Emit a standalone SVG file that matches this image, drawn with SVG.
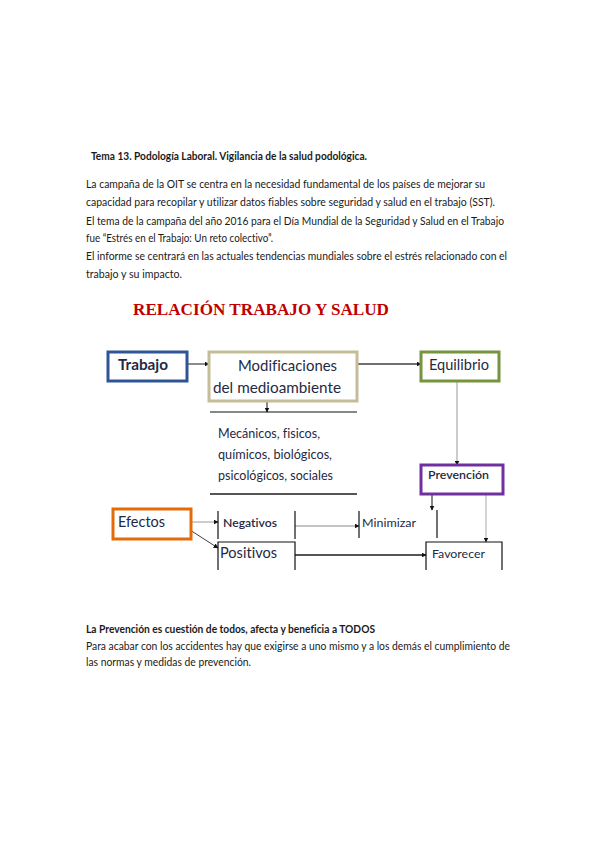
<svg xmlns="http://www.w3.org/2000/svg" width="599" height="848" viewBox="0 0 599 848">
<style>
text{font-variant-ligatures:none;font-feature-settings:"liga" 0}
.p{font-family:Lato,"Open Sans","Liberation Sans",sans-serif;font-size:11px;fill:#1a1a1a}
.b{font-weight:bold}
.d{font-family:Lato,"Open Sans","Liberation Sans",sans-serif;fill:#1f2a44}
.c{fill:none;stroke-linecap:butt}
.box{fill:#fff;stroke-width:3}
.k{fill:none;stroke:#111;stroke-width:1.2}
</style>
<defs>
<marker id="ah" markerWidth="5" markerHeight="5" refX="4.5" refY="2.5" orient="auto" markerUnits="userSpaceOnUse">
<path d="M0,0 L5,2.5 L0,5 z" fill="#111"/>
</marker>
</defs>
<rect width="599" height="848" fill="#fff"/>

<g id="text-top">
<text class="p b" x="91" y="160" textLength="276" lengthAdjust="spacingAndGlyphs">Tema 13. Podología Laboral. Vigilancia de la salud podológica.</text>
<text class="p" x="86" y="188" textLength="399" lengthAdjust="spacingAndGlyphs">La campaña de la OIT se centra en la necesidad fundamental de los países de mejorar su</text>
<text class="p" x="86" y="206" textLength="409" lengthAdjust="spacingAndGlyphs">capacidad para recopilar y utilizar datos fiables sobre seguridad y salud en el trabajo (SST).</text>
<text class="p" x="86" y="225" textLength="418" lengthAdjust="spacingAndGlyphs">El tema de la campaña del año 2016 para el Día Mundial de la Seguridad y Salud en el Trabajo</text>
<text class="p" x="86" y="242" textLength="187" lengthAdjust="spacingAndGlyphs">fue “Estrés en el Trabajo: Un reto colectivo”.</text>
<text class="p" x="86" y="260" textLength="421" lengthAdjust="spacingAndGlyphs">El informe se centrará en las actuales tendencias mundiales sobre el estrés relacionado con el</text>
<text class="p" x="86" y="278" textLength="96" lengthAdjust="spacingAndGlyphs">trabajo y su impacto.</text>
</g>

<g id="title">
<text x="133" y="314.5" font-family="'Liberation Serif',serif" font-weight="bold" font-size="17" fill="#c00000" textLength="256" lengthAdjust="spacingAndGlyphs">RELACIÓN TRABAJO Y SALUD</text>
</g>

<g id="connectors">
<line class="c" x1="187" y1="364" x2="209" y2="364" stroke="#404040" stroke-width="1.2" marker-end="url(#ah)"/>
<line class="c" x1="357" y1="364" x2="421" y2="364" stroke="#404040" stroke-width="1.5" marker-end="url(#ah)"/>
<line class="c" x1="267" y1="401" x2="267" y2="412" stroke="#111" stroke-width="1" marker-end="url(#ah)"/>
<line class="c" x1="457" y1="381" x2="457" y2="465" stroke="#999" stroke-width="1" marker-end="url(#ah)"/>
<line class="c" x1="191" y1="522" x2="218" y2="522" stroke="#999" stroke-width="1" marker-end="url(#ah)"/>
<line class="c" x1="190" y1="530" x2="218" y2="548" stroke="#404040" stroke-width="1" marker-end="url(#ah)"/>
<line class="c" x1="295" y1="526" x2="359" y2="526" stroke="#888" stroke-width="1" marker-end="url(#ah)"/>
<line class="c" x1="295" y1="555" x2="426" y2="555" stroke="#555" stroke-width="2" marker-end="url(#ah)"/>
<line class="c" x1="432" y1="494" x2="432" y2="510" stroke="#111" stroke-width="1" marker-end="url(#ah)"/>
<line class="c" x1="486" y1="494" x2="486" y2="542" stroke="#aaa" stroke-width="1" marker-end="url(#ah)"/>
</g>

<g id="trabajo">
<rect class="box" x="108" y="352" width="79" height="29" stroke="#2f5597"/>
<text class="d b" x="118" y="370" font-size="15" textLength="50" lengthAdjust="spacingAndGlyphs">Trabajo</text>
</g>

<g id="modificaciones">
<rect class="box" x="209" y="352" width="148" height="49" stroke="#c4bd97"/>
<text class="d" x="238" y="371" font-size="16" textLength="99" lengthAdjust="spacingAndGlyphs">Modificaciones</text>
<text class="d" x="213" y="393" font-size="16" textLength="128" lengthAdjust="spacingAndGlyphs">del medioambiente</text>
</g>

<g id="factores">
<line x1="210" y1="412" x2="357" y2="412" stroke="#111" stroke-width="1.2"/>
<text class="d" x="218" y="438" font-size="13" textLength="102" lengthAdjust="spacingAndGlyphs">Mecánicos, fisicos,</text>
<text class="d" x="218" y="459" font-size="13" textLength="114" lengthAdjust="spacingAndGlyphs">químicos, biológicos,</text>
<text class="d" x="218" y="480" font-size="13" textLength="115" lengthAdjust="spacingAndGlyphs">psicológicos, sociales</text>
<line x1="210" y1="494" x2="357" y2="494" stroke="#555" stroke-width="2"/>
</g>

<g id="equilibrio">
<rect class="box" x="421" y="352" width="78" height="29" stroke="#77933c"/>
<text class="d" x="429" y="370" font-size="15" textLength="60" lengthAdjust="spacingAndGlyphs">Equilibrio</text>
</g>

<g id="prevencion">
<rect class="box" x="421" y="465" width="82" height="29" stroke="#7030a0"/>
<text class="d" x="428" y="479" font-size="12" font-weight="600" textLength="61" lengthAdjust="spacingAndGlyphs">Prevención</text>
</g>

<g id="efectos">
<rect class="box" x="113" y="509" width="78" height="30" stroke="#e36c09"/>
<text class="d" x="118" y="527" font-size="15" textLength="47" lengthAdjust="spacingAndGlyphs">Efectos</text>
</g>

<g id="negativos">
<line class="k" x1="218" y1="511" x2="218" y2="539"/>
<line class="k" x1="295" y1="511" x2="295" y2="539"/>
<text class="d" x="223" y="527" font-size="12" font-weight="600" textLength="54" lengthAdjust="spacingAndGlyphs">Negativos</text>
</g>

<g id="positivos">
<path class="k" d="M218,570 V542 H295 V570"/>
<text class="d" x="220" y="558" font-size="15" textLength="57" lengthAdjust="spacingAndGlyphs">Positivos</text>
</g>

<g id="minimizar">
<line class="k" x1="359" y1="511" x2="359" y2="538"/>
<text class="d" x="362" y="527" font-size="12" textLength="54" lengthAdjust="spacingAndGlyphs">Minimizar</text>
</g>

<g id="favorecer">
<line class="k" x1="437" y1="510" x2="437" y2="538"/>
<path class="k" d="M426,570 V542 H502 V570"/>
<text class="d" x="432" y="558" font-size="12" textLength="53" lengthAdjust="spacingAndGlyphs">Favorecer</text>
</g>

<g id="text-bottom">
<text class="p b" x="86" y="633" textLength="289" lengthAdjust="spacingAndGlyphs">La Prevención es cuestión de todos, afecta y beneficia a TODOS</text>
<text class="p" x="86" y="650" textLength="424" lengthAdjust="spacingAndGlyphs">Para acabar con los accidentes hay que exigirse a uno mismo y a los demás el cumplimiento de</text>
<text class="p" x="86" y="666" textLength="165" lengthAdjust="spacingAndGlyphs">las normas y medidas de prevención.</text>
</g>
</svg>
